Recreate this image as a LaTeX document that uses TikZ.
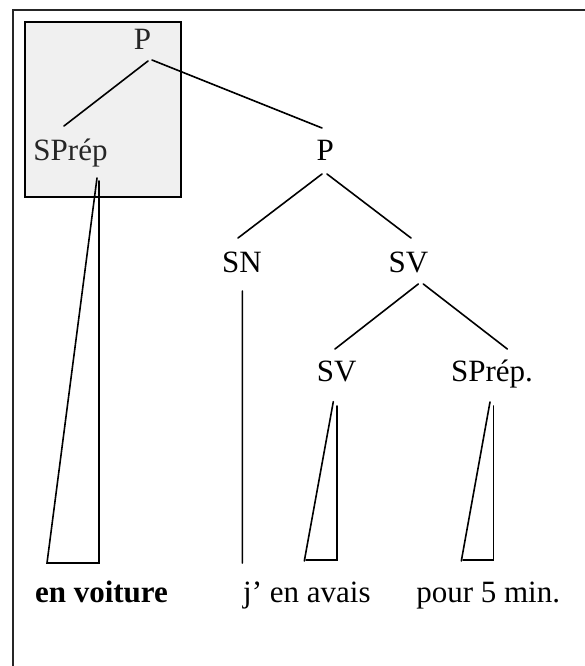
\documentclass[tikz,border=0pt]{standalone}
\usepackage{fontspec}
\setmainfont{Liberation Serif}
\usetikzlibrary{calc}
\begin{document}
\begin{tikzpicture}[x=1pt,y=-1pt,
  lab/.style={anchor=base,inner sep=0pt,font=\fontsize{31}{36}\selectfont},
  boxlab/.style={lab,text=black!85},
  edge/.style={line width=1.6pt,line cap=round},
  frame/.style={line width=1.8pt,draw=black!85},
  shade/.style={line width=2pt,draw=black,fill=black!6}]
\useasboundingbox (0,0) rectangle (584,666);
% outer frame
\coordinate (fbl) at (12.7,670);
\coordinate (ftl) at (12.7,10);
\coordinate (ftr) at (590,10);
\draw[frame] (fbl) -- (ftl) -- (ftr);
% grey box
\node[shade,draw,minimum width=156.5pt,minimum height=174.5pt,inner sep=0pt] (gbox) at (102.75,109.75) {};
% nodes
\node[boxlab] (p1) at (142.5,50) {P};
\node[boxlab] (sprepA) at (70.5,160) {SPrép};
\node[lab] (p2) at (325.3,160) {P};
\node[lab] (sn) at (242,272) {SN};
\node[lab] (sv) at (408.5,272) {SV};
\node[lab] (sv2) at (336.7,381) {SV};
\node[lab] (sprepB) at (492,381) {SPrép.};
\node[lab,font=\fontsize{31}{36}\selectfont\bfseries] (w1) at (101.5,602) {en voiture};
\node[lab] (w2) at (306.9,602) {j’ en avais};
\node[lab] (w3) at (488.2,602) {pour 5 min.};
% branches
\draw[edge] ($(p1.base)+(5.5,11)$) -- ($(sprepA.base)+(-6.5,-34)$);
\draw[edge] ($(p1.base)+(9.5,10)$) -- ($(p2.base)+(-3.3,-32)$);
\draw[edge] ($(p2.base)+(-3.3,14)$) -- ($(sn.base)+(-4,-34)$);
\draw[edge] ($(p2.base)+(1.7,14)$) -- ($(sv.base)+(2.5,-34)$);
\draw[edge] ($(sv.base)+(9.8,12)$) -- ($(sv2.base)+(-1.7,-32)$);
\draw[edge] ($(sv.base)+(14.8,12)$) -- ($(sprepB.base)+(15.3,-32)$);
\draw[edge] ($(sn.base)+(0.3,19)$) -- ($(w2.base)+(-64.6,-39)$);
% triangles
\draw[edge] ($(sprepA.base)+(26.5,18)$) -- ($(w1.base)+(-54.5,-39)$) -- ($(w1.base)+(-2.5,-39)$) -- ($(sprepA.base)+(28.5,21)$);
\draw[edge] ($(sv2.base)+(-3.4,20.7)$) -- ($(w2.base)+(-2.6,-41)$);
\draw[edge] ($(w2.base)+(-0.9,-42)$) -- ($(w2.base)+(29.8,-42)$) -- ($(sv2.base)+(0,25)$);
\draw[edge] ($(sprepB.base)+(-2,21)$) -- ($(w3.base)+(-26.9,-41)$);
\draw[edge] ($(w3.base)+(-25.2,-42)$) -- ($(w3.base)+(5.1,-42)$) -- ($(sprepB.base)+(1.3,25)$);
\end{tikzpicture}
\end{document}
